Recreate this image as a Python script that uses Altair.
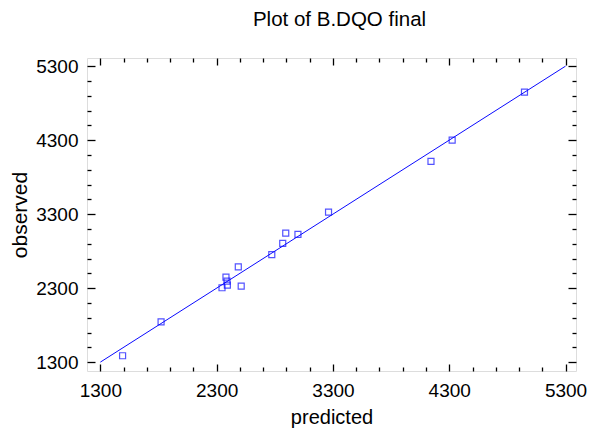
import altair as alt
import pandas as pd

# Data
predicted = [1491, 1822, 2346, 2380, 2389, 2392, 2486, 2511, 2774, 2868,
             2894, 2999, 3262, 4143, 4325, 4947]
observed = [1386, 1843, 2305, 2449, 2395, 2341, 2587, 2328, 2753, 2906,
            3044, 3027, 3327, 4013, 4299, 4950]
line_x = [1300, 5300]
line_y = [1300, 5300]
major_ticks = [1300, 2300, 3300, 4300, 5300]
minor_ticks = [1500, 1700, 1900, 2100, 2500, 2700, 2900, 3100,
               3500, 3700, 3900, 4100, 4500, 4700, 4900, 5100]

x_domain = [1185, 5390]
y_domain = [1180, 5410]

pts = pd.DataFrame({"predicted": predicted, "observed": observed})
ln = pd.DataFrame({"predicted": line_x, "observed": line_y})

FONT = "Liberation Sans"
BLUE = "#0A0AFF"

xs = alt.Scale(domain=x_domain, nice=False, zero=False)
ys = alt.Scale(domain=y_domain, nice=False, zero=False)

MAJ = 7
MIN = 4

def ax(orient, values, size, labels=False, title=None, pad=0, tpad=0, tfs=20):
    kw = dict(orient=orient, values=values, tickSize=size, offset=-size,
              domain=False, grid=False, labels=labels, tickColor="black",
              tickWidth=1.3, labelFlush=False)
    if labels:
        kw.update(labelFont=FONT, labelFontSize=19, labelColor="black",
                  labelPadding=pad, labelOverlap=False, format="d")
    if title:
        kw.update(title=title, titleFont=FONT, titleFontSize=tfs,
                  titleFontWeight="normal", titleColor="black",
                  titlePadding=tpad)
    else:
        kw.update(title=None)
    return alt.Axis(**kw)

points = alt.Chart(pts).mark_point(
    shape="square", size=36, filled=False, color=BLUE, strokeWidth=1.2
).encode(
    x=alt.X("predicted:Q", scale=xs,
            axis=ax("bottom", major_ticks, MAJ, labels=True, title="predicted",
                    pad=10, tpad=7)),
    y=alt.Y("observed:Q", scale=ys,
            axis=ax("left", major_ticks, MAJ + 1, labels=True, title="observed",
                    pad=9, tpad=5, tfs=21)),
)

line = alt.Chart(ln).mark_line(color=BLUE, strokeWidth=1).encode(
    x=alt.X("predicted:Q", scale=xs, axis=ax("top", major_ticks, MAJ)),
    y=alt.Y("observed:Q", scale=ys, axis=ax("right", major_ticks, MAJ + 1)),
)

minor1 = alt.Chart(pts).mark_point(opacity=0).encode(
    x=alt.X("predicted:Q", scale=xs, axis=ax("bottom", minor_ticks, MIN)),
    y=alt.Y("observed:Q", scale=ys, axis=ax("left", minor_ticks, MIN)),
)
minor2 = alt.Chart(pts).mark_point(opacity=0).encode(
    x=alt.X("predicted:Q", scale=xs, axis=ax("top", minor_ticks, MIN)),
    y=alt.Y("observed:Q", scale=ys, axis=ax("right", minor_ticks, MIN)),
)

chart = alt.layer(points, line, minor1, minor2).resolve_axis(
    x="independent", y="independent"
).properties(
    width=489,
    height=313,
    autosize=alt.AutoSizeParams(type="none"),
    padding={"left": 79, "top": 50, "right": 13, "bottom": 58},
    title=alt.TitleParams("Plot of B.DQO final", font=FONT, fontSize=20.5,
                          fontWeight="normal", color="black", anchor="middle",
                          baseline="alphabetic", offset=11, dx=8),
).configure_view(
    stroke="black", strokeWidth=1.5
).configure(background="white")

chart.save("out.html", embed_options={"renderer": "svg", "actions": False})
